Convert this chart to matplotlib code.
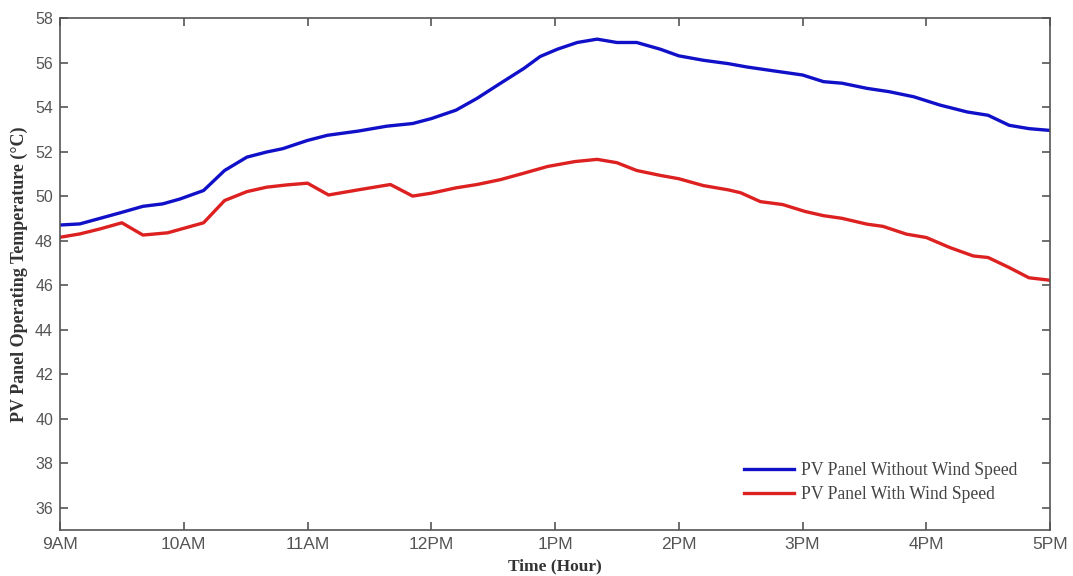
import matplotlib
matplotlib.use("Agg")
import matplotlib.pyplot as plt

hours_no_wind = [9.0, 9.16, 9.5, 9.67, 9.83, 9.97, 10.16, 10.33, 10.51, 10.67, 10.8, 11.0, 11.16, 11.41,
                 11.64, 11.85, 12.0, 12.2, 12.37, 12.56, 12.75, 12.88, 13.02, 13.18, 13.34, 13.5, 13.66,
                 13.85, 14.0, 14.2, 14.4, 14.55, 14.76, 15.0, 15.17, 15.32, 15.52, 15.7, 15.9, 16.11,
                 16.33, 16.5, 16.67, 16.83, 17.0]
temp_no_wind = [48.7, 48.75, 49.27, 49.54, 49.65, 49.87, 50.25, 51.15, 51.75, 51.98, 52.13, 52.5, 52.73,
                52.92, 53.14, 53.26, 53.48, 53.86, 54.39, 55.07, 55.74, 56.27, 56.6, 56.9, 57.05, 56.9,
                56.9, 56.6, 56.3, 56.1, 55.95, 55.8, 55.63, 55.44, 55.14, 55.07, 54.84, 54.69, 54.46,
                54.09, 53.78, 53.63, 53.18, 53.03, 52.95]

hours_wind = [9.0, 9.16, 9.32, 9.5, 9.67, 9.87, 10.16, 10.33, 10.51, 10.67, 10.83, 11.0, 11.17, 11.41,
              11.67, 11.85, 12.0, 12.2, 12.37, 12.56, 12.73, 12.94, 13.16, 13.34, 13.5, 13.66, 13.85,
              14.0, 14.2, 14.4, 14.5, 14.66, 14.84, 15.02, 15.17, 15.32, 15.52, 15.65, 15.84, 16.0,
              16.19, 16.38, 16.5, 16.67, 16.83, 17.0]
temp_wind = [48.15, 48.3, 48.52, 48.8, 48.25, 48.35, 48.8, 49.8, 50.2, 50.4, 50.5, 50.58, 50.05, 50.28,
             50.52, 50.0, 50.13, 50.37, 50.52, 50.74, 51.0, 51.33, 51.55, 51.65, 51.5, 51.15, 50.93,
             50.78, 50.47, 50.28, 50.15, 49.75, 49.62, 49.31, 49.12, 49.0, 48.74, 48.64, 48.29, 48.14,
             47.69, 47.31, 47.24, 46.79, 46.33, 46.22]

tick_hours = [9, 10, 11, 12, 13, 14, 15, 16, 17]
tick_labels = ["9AM", "10AM", "11AM", "12PM", "1PM", "2PM", "3PM", "4PM", "5PM"]
y_ticks = [36, 38, 40, 42, 44, 46, 48, 50, 52, 54, 56, 58]

fig = plt.figure(figsize=(10.73, 5.76), dpi=100)
ax = fig.add_axes([60/1073, 1-530/576, 990/1073, 512/576])

ax.plot(hours_no_wind, temp_no_wind, color="#1010c8", lw=2.4, label="PV Panel Without Wind Speed")
ax.plot(hours_wind, temp_wind, color="#dd2020", lw=2.4, label="PV Panel With Wind Speed")

ax.set_xlim(9, 17)
ax.set_ylim(35, 58)
ax.set_xticks(tick_hours)
ax.set_xticklabels(tick_labels)
ax.set_yticks(y_ticks)

grey = "#555555"
for s in ax.spines.values():
    s.set_color(grey)
    s.set_linewidth(1.2)
ax.tick_params(direction="in", top=True, right=True, length=6, width=1.2, color=grey,
               labelcolor="#555555", labelsize=11.5, pad=5)
for lab in ax.get_xticklabels() + ax.get_yticklabels():
    lab.set_family("Liberation Sans")
for lab in ax.get_xticklabels():
    lab.set_fontsize(12.5)

ax.set_xlabel("Time (Hour)", family="Liberation Serif", fontweight="bold", fontsize=12.5, color="#333333", labelpad=5)
ax.set_ylabel("PV Panel Operating Temperature (°C)", family="Liberation Serif", fontweight="bold",
              fontsize=13, color="#333333", labelpad=5)

leg = ax.legend(loc="center left", bbox_to_anchor=(0.675, 0.092), frameon=False,
                prop={"family": "Liberation Serif", "size": 12.7}, handlelength=2.85, handletextpad=0.4,
                labelspacing=0.4)
for t in leg.get_texts():
    t.set_color("#444444")

fig.savefig("out.png", dpi=100)
